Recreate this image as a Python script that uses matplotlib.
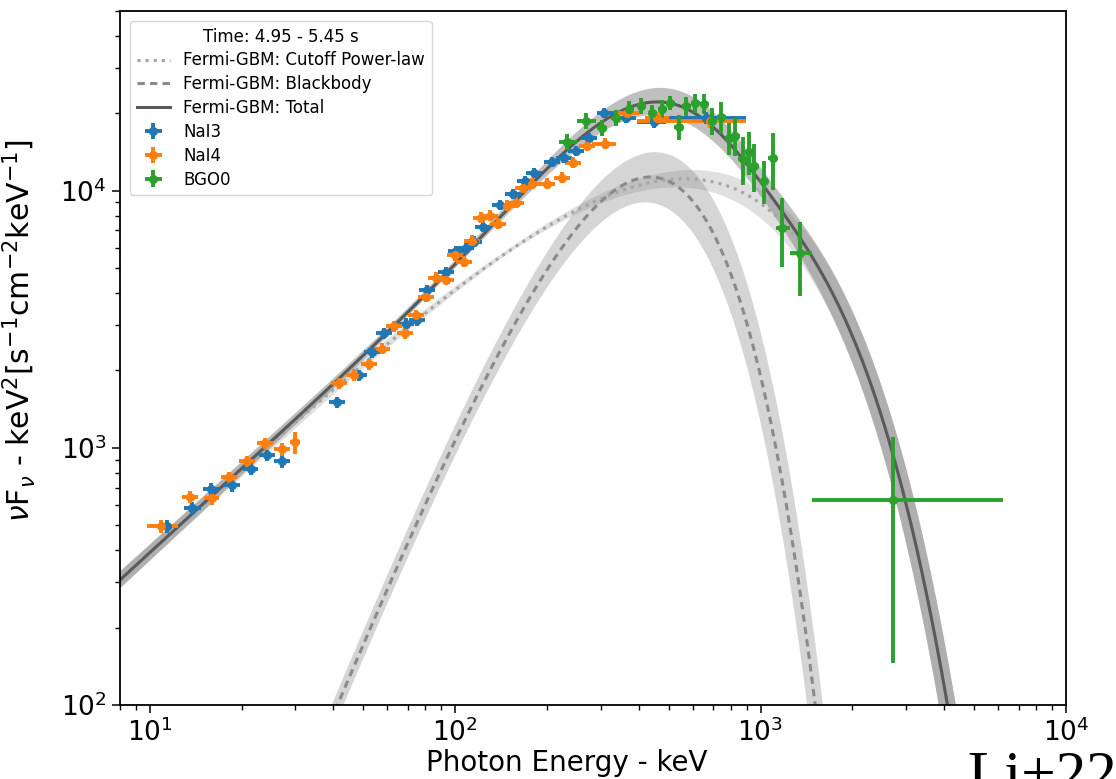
import itertools
import numpy as np
import matplotlib.pyplot as plt

# Count spectra in nuFnu units (keV^2 s^-1 cm^-2 keV^-1), energies in keV
nai3_e = [11.4, 13.8, 15.9, 18.6, 21.4, 24.2, 27.1, 41.0, 48.4, 53.4, 58.5, 69.0, 75.0, 80.9, 93.4,
          100.7, 108.6, 115.4, 123.5, 140.5, 155.0, 169.8, 181.6, 208.0, 227.7, 249.3, 275.0, 308.0,
          364.0, 449.0, 661.0]
nai3_elo = [10.7, 13.0, 15.0, 17.5, 20.2, 22.8, 25.5, 38.6, 45.6, 50.3, 55.1, 65.0, 70.7, 76.2, 88.0,
            94.9, 102.3, 108.7, 116.3, 132.3, 146.0, 160.0, 171.0, 196.0, 214.5, 234.8, 259.0, 292.0,
            350.0, 395.0, 490.0]
nai3_ehi = [12.1, 14.7, 16.9, 19.8, 22.7, 25.7, 28.8, 43.5, 51.4, 56.7, 62.1, 73.3, 79.7, 85.9, 99.2,
            106.9, 115.3, 122.6, 131.2, 149.2, 164.6, 180.3, 192.9, 220.9, 241.8, 264.8, 292.0, 337.0,
            392.0, 490.0, 899.0]
nai3_f = [495, 582, 690, 714, 826, 935, 887, 1503, 1915, 2350, 2786, 3041, 3127, 4093, 4808,
          5800, 5960, 6340, 7245, 8825, 9735, 10940, 11750, 12960, 13430, 14290, 16070, 20100,
          19190, 18530, 19190]
nai3_ferr = [28, 32, 37, 38, 44, 50, 50, 80, 100, 120, 140, 155, 160, 200, 230,
             280, 290, 300, 340, 400, 440, 490, 520, 570, 600, 640, 720, 900,
             900, 1000, 1100]

nai4_e = [10.9, 13.6, 16.0, 18.2, 20.8, 23.8, 27.1, 29.9, 41.7, 46.7, 52.3, 57.6, 63.1, 68.6, 74.5,
          80.3, 86.7, 93.4, 100.0, 107.1, 113.8, 121.7, 130.3, 138.4, 148.0, 158.5, 167.0, 178.8,
          200.0, 224.6, 243.8, 271.0, 310.5, 366.0, 459.0, 681.0]
nai4_elo = [9.8, 12.8, 15.1, 17.1, 19.6, 22.4, 25.5, 28.8, 39.3, 44.0, 49.3, 54.3, 59.4, 64.6, 70.2,
            75.6, 81.7, 88.0, 94.2, 100.9, 107.2, 114.6, 122.7, 130.4, 139.4, 149.3, 157.3, 168.4,
            188.4, 211.6, 229.7, 255.3, 281.0, 340.0, 420.0, 395.0]
nai4_ehi = [12.4, 14.4, 16.9, 19.3, 22.1, 25.3, 28.8, 31.1, 44.3, 49.6, 55.5, 61.2, 67.0, 72.9, 79.1,
            85.3, 92.1, 99.2, 106.2, 113.7, 120.9, 129.2, 138.4, 147.0, 157.2, 168.3, 177.4, 189.9,
            212.4, 238.5, 258.9, 287.8, 337.0, 401.0, 500.0, 899.0]
nai4_f = [495, 643, 637, 767, 887, 1041, 986, 1049, 1779, 1927, 2109, 2432, 2965, 2786, 3272,
          3873, 4592, 4508, 5600, 5297, 6397, 7850, 8000, 7445, 8745, 8980, 10270, 10650,
          10650, 11230, 12840, 14960, 15230, 20100, 19190, 18700]
nai4_ferr = [30, 35, 35, 40, 45, 55, 55, 100, 90, 100, 110, 125, 150, 145, 165,
             195, 230, 230, 280, 270, 320, 390, 400, 380, 440, 450, 510, 530,
             530, 560, 640, 750, 760, 1000, 1000, 1100]

bgo0_e = [233, 269, 303, 337, 372, 407, 442, 477, 507, 539, 572, 612, 655, 696, 745, 791, 828,
          873, 920, 955, 1023, 1095, 1180, 1343, 2710]
bgo0_elo = [219, 250, 292, 325, 359, 393, 427, 460, 489, 520, 552, 591, 632, 672, 719, 763, 799,
            843, 888, 922, 987, 1057, 1120, 1245, 1469]
bgo0_ehi = [251, 290, 315, 350, 386, 422, 458, 494, 525, 558, 592, 634, 678, 721, 771, 819, 857,
            904, 952, 989, 1059, 1134, 1245, 1469, 6210]
bgo0_f = [15490, 18700, 17580, 19190, 20800, 21380, 20100, 20800, 21980, 17740, 21380, 21980,
          21780, 18700, 19360, 16070, 16370, 13310, 14170, 12510, 10940, 13430, 7180, 5740, 625]
bgo0_ferr = [1080, 1310, 1230, 1340, 1460, 1500, 1510, 1660, 1430, 1950, 1820, 1870,
             1960, 2240, 2710, 2250, 2780, 2800, 2690, 2630, 2080, 3360, 2150, 1840, 480]

# best-fit model: cutoff power law + blackbody
cpl_k = 5820.0      # nuFnu at the pivot energy
cpl_epiv = 150.0
cpl_index = -0.9
cpl_ecut = 512.0
bb_kt = 111.0
bb_peak = 1.13e4

# 1-sigma spreads for the shaded bands
cpl_dk = 0.008      # dex
cpl_dindex = 0.015
cpl_decut = 25.0
bb_dk = 0.035       # dex
bb_dkt = 4.0


def cpl(e, k, index, ecut):
    return k * (e / cpl_epiv) ** (index + 2) * np.exp(-(e - cpl_epiv) / ecut)


def bb(e, norm, kt):
    return norm * e ** 4 / np.expm1(e / kt)


xp = 3.9207
bb_norm = bb_peak / ((xp * bb_kt) ** 4 / np.expm1(xp))

egrid = np.logspace(np.log10(8), 4, 600)
f_cpl = cpl(egrid, cpl_k, cpl_index, cpl_ecut)
f_bb = bb(egrid, bb_norm, bb_kt)
f_tot = f_cpl + f_bb

cpl_set = np.array([cpl(egrid, cpl_k * 10 ** (s1 * cpl_dk), cpl_index + s2 * cpl_dindex, cpl_ecut + s3 * cpl_decut)
                    for s1, s2, s3 in itertools.product([-1, 1], repeat=3)])
bb_set = np.array([bb(egrid, bb_norm * 10 ** (s1 * bb_dk), bb_kt + s2 * bb_dkt)
                   for s1, s2 in itertools.product([-1, 1], repeat=2)])
cpl_lo, cpl_hi = cpl_set.min(axis=0), cpl_set.max(axis=0)
bb_lo, bb_hi = bb_set.min(axis=0), bb_set.max(axis=0)
tot_hi = f_tot + np.sqrt((cpl_hi - f_cpl) ** 2 + (bb_hi - f_bb) ** 2)
tot_lo = f_tot - np.sqrt((f_cpl - cpl_lo) ** 2 + (f_bb - bb_lo) ** 2)

fig = plt.figure(figsize=(11.16, 7.79), dpi=100)
ax = fig.add_axes([0.1075, 0.095, 0.8477, 0.891])

ax.fill_between(egrid, cpl_lo, cpl_hi, color='0.5', alpha=0.24, lw=0)
ax.fill_between(egrid, bb_lo, bb_hi, color='0.5', alpha=0.33, lw=0)
ax.fill_between(egrid, tot_lo, tot_hi, color='0.5', alpha=0.5, lw=0)

ax.plot(egrid, f_cpl, ':', color='#a5a5a5', lw=2.2, label='Fermi-GBM: Cutoff Power-law')
ax.plot(egrid, f_bb, color='#8a8a8a', lw=2.2, ls=(0, (2.4, 1.7)), label='Fermi-GBM: Blackbody')
ax.plot(egrid, f_tot, color='#5a5a5a', lw=2.2, label='Fermi-GBM: Total')

for e, elo, ehi, f, ferr, c, name in [
        (nai3_e, nai3_elo, nai3_ehi, nai3_f, nai3_ferr, 'tab:blue', 'NaI3'),
        (nai4_e, nai4_elo, nai4_ehi, nai4_f, nai4_ferr, 'tab:orange', 'NaI4'),
        (bgo0_e, bgo0_elo, bgo0_ehi, bgo0_f, bgo0_ferr, 'tab:green', 'BGO0')]:
    e = np.array(e)
    xerr = [e - np.array(elo), np.array(ehi) - e]
    ax.errorbar(e, f, xerr=xerr, yerr=ferr, fmt='o', ms=5.5, elinewidth=2.8,
                capsize=0, color=c, label=name)

ax.set_xscale('log')
ax.set_yscale('log')
ax.set_xlim(8, 1e4)
ax.set_ylim(100, 5e4)

ax.tick_params(which='major', length=6, width=1.1, labelsize=19)
ax.tick_params(which='minor', length=3.5, width=1.0)
for sp in ax.spines.values():
    sp.set_linewidth(1.3)

ax.set_xlabel('Photon Energy - keV', fontsize=20)
ax.xaxis.set_label_coords(0.4725, -0.063)
ax.set_ylabel(r'$\nu$F$_\nu$ - keV$^2$[s$^{-1}$cm$^{-2}$keV$^{-1}$]', fontsize=21.5)
ax.yaxis.set_label_coords(-0.087, 0.54)

ax.legend(loc='upper left', title='Time: 4.95 - 5.45 s', fontsize=12, title_fontsize=12,
          labelspacing=0.35, borderaxespad=0.6)

fig.text(0.867, -0.018, 'Li+22', family='Liberation Serif', fontsize=44, va='baseline')

fig.savefig('out.png', dpi=100)
